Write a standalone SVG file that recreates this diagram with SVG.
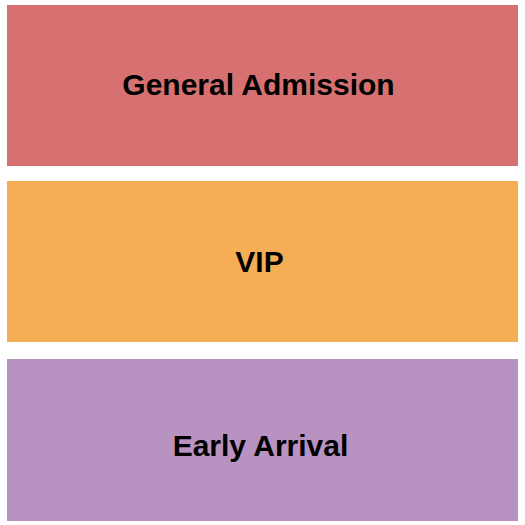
<svg xmlns="http://www.w3.org/2000/svg" width="525" height="525" viewBox="0 0 525 525">
<style>
text{font-family:"Liberation Sans",Arial,sans-serif;font-weight:bold;font-size:30px;fill:#000;text-anchor:middle}
</style>
<rect width="525" height="525" fill="#fff"/>
<g id="general-admission"><rect x="7" y="5" width="511" height="161" fill="#d77070"/><text x="258.5" y="95">General Admission</text></g>
<g id="vip"><rect x="7" y="181" width="511" height="161" fill="#f5ae56"/><text x="259.5" y="272">VIP</text></g>
<g id="early-arrival"><rect x="7" y="359" width="511" height="162" fill="#b892c1"/><text x="260.5" y="456">Early Arrival</text></g>
<g id="connectors"/>
</svg>
